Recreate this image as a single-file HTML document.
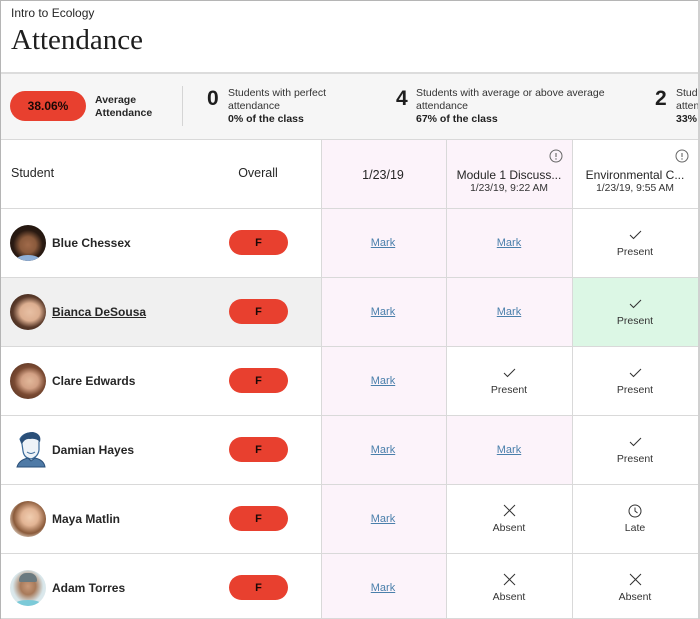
<!DOCTYPE html>
<html><head><meta charset="utf-8">
<style>
*{margin:0;padding:0;box-sizing:border-box}
body{width:700px;height:619px;overflow:hidden;background:#fff;font-family:"Liberation Sans",Arial,sans-serif;color:#262626;position:relative}
.a{position:absolute}
.hl{position:absolute;height:1px;background:#d9d9d9}
.vl{position:absolute;width:1px;background:#d9d9d9}
.t{position:absolute;white-space:nowrap;line-height:1}
.c{transform:translateX(-50%)}
.pill{position:absolute;background:#e8402f;border-radius:13px;color:#1a0806;font-weight:bold;text-align:center}
.mark{position:absolute;font-size:11px;color:#4a7fab;text-decoration:underline;transform:translateX(-50%);line-height:1;white-space:nowrap}
.name{position:absolute;font-size:12px;font-weight:bold;color:#262626;line-height:1;white-space:nowrap}
.st{position:absolute;font-size:10.5px;color:#333;transform:translateX(-50%);line-height:1;white-space:nowrap}
.av{position:absolute;width:36px;height:36px;border-radius:50%;overflow:hidden}
</style></head><body>
<!-- outer borders -->
<div class="a" style="left:0;top:0;width:700px;height:1px;background:#b5b5b5"></div>
<div class="a" style="left:0;top:0;width:1px;height:619px;background:#b5b5b5"></div>
<div class="a" style="left:698px;top:0;width:2px;height:619px;background:#d0d0d0"></div>

<!-- header -->
<div class="t" style="left:11px;top:7px;font-size:12px;color:#262626">Intro to Ecology</div>
<div class="t" style="left:11px;top:26px;font-size:29px;font-family:'Liberation Serif',serif;color:#1e1e1e">Attendance</div>

<!-- summary -->
<div class="a" style="left:1px;top:72px;width:697px;height:2px;background:#dcdcdc"></div>
<div class="a" style="left:1px;top:74px;width:697px;height:65px;background:#f6f6f6"></div>
<div class="pill" style="left:10px;top:91px;width:76px;height:30px;border-radius:15px;font-size:12px;line-height:30px;color:#1a0806">38.06%</div>
<div class="t" style="left:95px;top:94px;font-size:10.5px;font-weight:bold;line-height:13px;color:#262626">Average<br>Attendance</div>
<div class="a" style="left:182px;top:86px;width:1px;height:40px;background:#d5d5d5"></div>

<div class="t" style="left:207px;top:88px;font-size:21px;font-weight:bold;color:#1e1e1e">0</div>
<div class="t" style="left:228px;top:87px;font-size:10.5px;line-height:13px;color:#333">Students with perfect<br>attendance<br><b style="color:#222">0% of the class</b></div>

<div class="t" style="left:396px;top:88px;font-size:21px;font-weight:bold;color:#1e1e1e">4</div>
<div class="t" style="left:416px;top:87px;font-size:10.5px;line-height:13px;color:#333">Students with average or above average<br>attendance<br><b style="color:#222">67% of the class</b></div>

<div class="t" style="left:655px;top:88px;font-size:21px;font-weight:bold;color:#1e1e1e">2</div>
<div class="t" style="left:676px;top:87px;font-size:10.5px;line-height:13px;color:#333;width:22px;overflow:hidden">Students<br>attendance<br><b style="color:#222">33%</b></div>

<!-- table backgrounds -->
<div class="a" style="left:1px;top:278px;width:321px;height:68px;background:#f0f0f0"></div>
<div class="a" style="left:322px;top:140px;width:124px;height:479px;background:#fcf3fa"></div>
<div class="a" style="left:447px;top:140px;width:125px;height:68px;background:#fcf3fa"></div>
<div class="a" style="left:447px;top:209px;width:125px;height:137px;background:#fcf3fa"></div>
<div class="a" style="left:447px;top:416px;width:125px;height:68px;background:#fcf3fa"></div>
<div class="a" style="left:573px;top:278px;width:125px;height:68px;background:#dcf7e5"></div>

<!-- grid lines -->
<div class="hl" style="left:1px;top:139px;width:697px"></div>
<div class="hl" style="left:1px;top:208px;width:697px"></div>
<div class="hl" style="left:1px;top:277px;width:697px"></div>
<div class="hl" style="left:1px;top:346px;width:697px"></div>
<div class="hl" style="left:1px;top:415px;width:697px"></div>
<div class="hl" style="left:1px;top:484px;width:697px"></div>
<div class="hl" style="left:1px;top:553px;width:697px"></div>
<div class="hl" style="left:1px;top:618px;width:697px"></div>
<div class="vl" style="left:321px;top:139px;height:480px"></div>
<div class="vl" style="left:446px;top:139px;height:480px"></div>
<div class="vl" style="left:572px;top:139px;height:480px"></div>

<!-- header row -->
<div class="t" style="left:11px;top:167px;font-size:12.5px">Student</div>
<div class="t c" style="left:258px;top:167px;font-size:12.5px">Overall</div>
<div class="t c" style="left:383px;top:169px;font-size:12.5px">1/23/19</div>
<div class="t c" style="left:509px;top:169px;font-size:12px">Module 1 Discuss...</div>
<div class="t c" style="left:509px;top:184px;font-size:10.3px;color:#333">1/23/19, 9:22 AM</div>
<div class="t c" style="left:635px;top:169px;font-size:12px">Environmental C...</div>
<div class="t c" style="left:635px;top:184px;font-size:10.3px;color:#333">1/23/19, 9:55 AM</div>
<svg class="a" style="left:549px;top:149px" width="14" height="14"><circle cx="7" cy="7" r="6" fill="none" stroke="#666" stroke-width="1"/><line x1="7" y1="4" x2="7" y2="8" stroke="#666" stroke-width="1.1"/><circle cx="7" cy="10" r="0.7" fill="#666"/></svg>
<svg class="a" style="left:675px;top:149px" width="14" height="14"><circle cx="7" cy="7" r="6" fill="none" stroke="#666" stroke-width="1"/><line x1="7" y1="4" x2="7" y2="8" stroke="#666" stroke-width="1.1"/><circle cx="7" cy="10" r="0.7" fill="#666"/></svg>

<!-- avatars -->
<div class="av" style="left:10px;top:225px;background:radial-gradient(circle at 50% 55%,#a06a4a 0,#8a5a3c 30%,#2a1a12 55%,#1a120c 100%)"><div class="a" style="left:6px;top:30px;width:24px;height:10px;background:#8fb0d8;border-radius:50%"></div></div>
<div class="av" style="left:10px;top:294px;background:radial-gradient(ellipse at 55% 50%,#e8c0a4 0,#dcae90 35%,#5a3a2a 60%,#2a1a12 100%)"></div>
<div class="av" style="left:10px;top:363px;background:radial-gradient(ellipse at 55% 50%,#e2b89a 0,#d2a084 30%,#7a4a32 55%,#4a2c1e 100%)"></div>
<svg class="a" style="left:14px;top:430px" width="32" height="38" viewBox="0 0 32 38"><path d="M6 9 Q10 2 20 3 Q27 5 25 12 L25 20 Q24 27 17 29 Q10 28 9 21 L8 14 Z" fill="#eef3f8" stroke="#3a6a9a" stroke-width="1.2"/><path d="M6 10 Q9 2 19 2 Q28 4 26 12 Q22 8 16 9 Q11 8 8 14 Z" fill="#2a4f78"/><path d="M3 37 Q5 30 14 28 L17 31 L21 28 Q30 30 31 37 Z" fill="#4f7aa6" stroke="#2a4f78" stroke-width="1"/><path d="M13 22 Q17 25 21 22" fill="none" stroke="#3a6a9a" stroke-width="1"/></svg>
<div class="av" style="left:10px;top:501px;background:radial-gradient(ellipse at 55% 45%,#f0cdb0 0,#e2b494 30%,#8a5a3a 58%,#e8dcd0 80%,#f2ece6 100%)"></div>
<div class="av" style="left:10px;top:570px;background:radial-gradient(ellipse at 50% 45%,#c99a7a 0,#a87a5a 30%,#d8e6ea 60%,#e8f0f2 100%)"><div class="a" style="left:9px;top:3px;width:18px;height:9px;background:#6a7a80;border-radius:9px 9px 2px 2px"></div><div class="a" style="left:5px;top:30px;width:26px;height:8px;background:#7ccad8;border-radius:50%"></div></div>

<!-- names -->
<div class="name" style="left:52px;top:237px">Blue Chessex</div>
<div class="name" style="left:52px;top:306px;text-decoration:underline">Bianca DeSousa</div>
<div class="name" style="left:52px;top:375px">Clare Edwards</div>
<div class="name" style="left:52px;top:444px">Damian Hayes</div>
<div class="name" style="left:52px;top:513px">Maya Matlin</div>
<div class="name" style="left:52px;top:582px">Adam Torres</div>

<!-- F pills -->
<div class="pill" style="left:229px;top:230px;width:59px;height:25px;font-size:11px;line-height:26px">F</div>
<div class="pill" style="left:229px;top:299px;width:59px;height:25px;font-size:11px;line-height:26px">F</div>
<div class="pill" style="left:229px;top:368px;width:59px;height:25px;font-size:11px;line-height:26px">F</div>
<div class="pill" style="left:229px;top:437px;width:59px;height:25px;font-size:11px;line-height:26px">F</div>
<div class="pill" style="left:229px;top:506px;width:59px;height:25px;font-size:11px;line-height:26px">F</div>
<div class="pill" style="left:229px;top:575px;width:59px;height:25px;font-size:11px;line-height:26px">F</div>

<!-- 1/23/19 column -->
<div class="mark" style="left:383px;top:238px">Mark</div>
<div class="mark" style="left:383px;top:307px">Mark</div>
<div class="mark" style="left:383px;top:376px">Mark</div>
<div class="mark" style="left:383px;top:445px">Mark</div>
<div class="mark" style="left:383px;top:514px">Mark</div>
<div class="mark" style="left:383px;top:583px">Mark</div>

<!-- Module column -->
<div class="mark" style="left:509px;top:238px">Mark</div>
<div class="mark" style="left:509px;top:307px">Mark</div>
<svg class="a" style="left:503px;top:368px" width="13" height="10"><path d="M1 5 L4.5 8.5 L12 1" fill="none" stroke="#333" stroke-width="1"/></svg>
<div class="st" style="left:509px;top:385px">Present</div>
<div class="mark" style="left:509px;top:445px">Mark</div>
<svg class="a" style="left:503px;top:504px" width="13" height="13"><path d="M1 1 L12 12 M12 1 L1 12" fill="none" stroke="#333" stroke-width="1"/></svg>
<div class="st" style="left:509px;top:523px">Absent</div>
<svg class="a" style="left:503px;top:573px" width="13" height="13"><path d="M1 1 L12 12 M12 1 L1 12" fill="none" stroke="#333" stroke-width="1"/></svg>
<div class="st" style="left:509px;top:592px">Absent</div>

<!-- Environmental column -->
<svg class="a" style="left:629px;top:230px" width="13" height="10"><path d="M1 5 L4.5 8.5 L12 1" fill="none" stroke="#333" stroke-width="1"/></svg>
<div class="st" style="left:635px;top:247px">Present</div>
<svg class="a" style="left:629px;top:299px" width="13" height="10"><path d="M1 5 L4.5 8.5 L12 1" fill="none" stroke="#333" stroke-width="1"/></svg>
<div class="st" style="left:635px;top:316px">Present</div>
<svg class="a" style="left:629px;top:368px" width="13" height="10"><path d="M1 5 L4.5 8.5 L12 1" fill="none" stroke="#333" stroke-width="1"/></svg>
<div class="st" style="left:635px;top:385px">Present</div>
<svg class="a" style="left:629px;top:437px" width="13" height="10"><path d="M1 5 L4.5 8.5 L12 1" fill="none" stroke="#333" stroke-width="1"/></svg>
<div class="st" style="left:635px;top:454px">Present</div>
<svg class="a" style="left:628px;top:504px" width="14" height="14"><circle cx="7" cy="7" r="6" fill="none" stroke="#333" stroke-width="1"/><path d="M7 3.5 L7 7 L9.5 9" fill="none" stroke="#333" stroke-width="1"/></svg>
<div class="st" style="left:635px;top:523px">Late</div>
<svg class="a" style="left:629px;top:573px" width="13" height="13"><path d="M1 1 L12 12 M12 1 L1 12" fill="none" stroke="#333" stroke-width="1"/></svg>
<div class="st" style="left:635px;top:592px">Absent</div>
</body></html>
